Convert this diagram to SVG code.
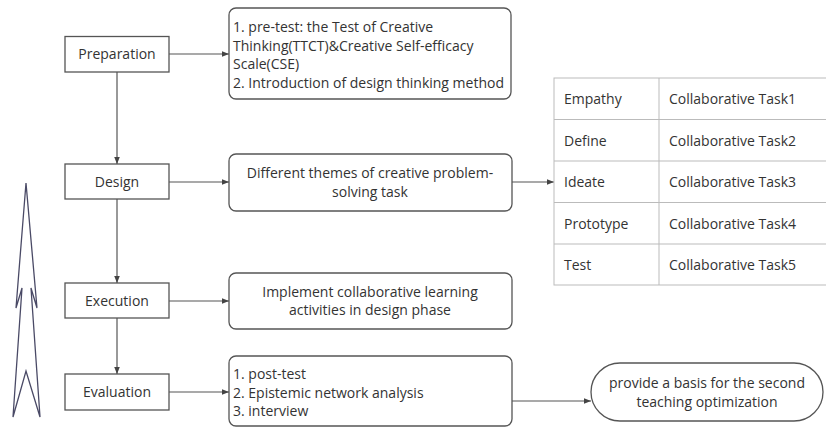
<svg xmlns="http://www.w3.org/2000/svg" width="826" height="429" viewBox="0 0 826 429">
<style>
  .stage{fill:#fff;stroke:#555;stroke-width:1.3}
  .box{fill:#fff;stroke:#555;stroke-width:1.3}
  .t{font-family:"Open Sans","Noto Sans","Liberation Sans",sans-serif;font-size:14px;fill:#333}
  .c{text-anchor:middle}
  .conn{stroke:#555;stroke-width:1.2;fill:none}
  .grid{stroke:#bbb;stroke-width:1;fill:none}
</style>
<defs>
  <marker id="ah" viewBox="0 0 8 8" refX="8" refY="4" markerWidth="7" markerHeight="7" markerUnits="userSpaceOnUse" orient="auto">
    <path d="M0,0.8 L8,4 L0,7.2 Z" fill="#444"/>
  </marker>
</defs>

<g id="connectors">
  <line class="conn" x1="117" y1="72" x2="117" y2="164" marker-end="url(#ah)"/>
  <line class="conn" x1="117" y1="199" x2="117" y2="283" marker-end="url(#ah)"/>
  <line class="conn" x1="117" y1="318" x2="117" y2="374" marker-end="url(#ah)"/>
  <line class="conn" x1="169" y1="54" x2="229" y2="54" marker-end="url(#ah)"/>
  <line class="conn" x1="169" y1="182" x2="229" y2="182" marker-end="url(#ah)"/>
  <line class="conn" x1="169" y1="301" x2="229" y2="301" marker-end="url(#ah)"/>
  <line class="conn" x1="169" y1="392" x2="229" y2="392" marker-end="url(#ah)"/>
  <line class="conn" x1="512" y1="182" x2="554" y2="182" marker-end="url(#ah)"/>
  <line class="conn" x1="512" y1="401" x2="591" y2="401" marker-end="url(#ah)"/>
</g>

<g id="cycle-arrow">
  <path d="M26,183 L37,308 L31,288 L40,417 L26,371 L13,417 L22,288 L16,308 Z" fill="#fff" stroke="#4a4a66" stroke-width="1.3" stroke-linejoin="miter"/>
</g>

<g id="preparation">
  <rect class="stage" x="65" y="36.5" width="104" height="35.5"/>
  <text class="t c" x="117" y="59">Preparation</text>
</g>
<g id="design">
  <rect class="stage" x="65" y="164" width="104" height="35"/>
  <text class="t c" x="117" y="186.5">Design</text>
</g>
<g id="execution">
  <rect class="stage" x="65" y="283" width="104" height="35"/>
  <text class="t c" x="117" y="305.5">Execution</text>
</g>
<g id="evaluation">
  <rect class="stage" x="65" y="374" width="104" height="36"/>
  <text class="t c" x="117" y="397">Evaluation</text>
</g>

<g id="pretest">
  <rect class="box" x="229" y="8" width="282" height="91" rx="7"/>
  <text class="t" x="233" y="32">1. pre-test: the Test of Creative</text>
  <text class="t" x="233" y="50.5">Thinking(TTCT)&amp;Creative Self-efficacy</text>
  <text class="t" x="233" y="69">Scale(CSE)</text>
  <text class="t" x="233" y="87.5">2. Introduction of design thinking method</text>
</g>
<g id="themes">
  <rect class="box" x="229" y="154" width="283" height="57" rx="7"/>
  <text class="t c" x="370" y="177.5">Different themes of creative problem-</text>
  <text class="t c" x="370" y="196.5">solving task</text>
</g>
<g id="implement">
  <rect class="box" x="229" y="273" width="283" height="56" rx="7"/>
  <text class="t c" x="370" y="296.5">Implement collaborative learning</text>
  <text class="t c" x="370" y="315">activities in design phase</text>
</g>
<g id="posttest">
  <rect class="box" x="229" y="356" width="283" height="70" rx="7"/>
  <text class="t" x="233" y="379">1. post-test</text>
  <text class="t" x="233" y="397.5">2. Epistemic network analysis</text>
  <text class="t" x="233" y="416">3. interview</text>
</g>
<g id="basis">
  <rect class="box" x="591" y="363" width="232" height="58" rx="29"/>
  <text class="t c" x="707" y="388">provide a basis for the second</text>
  <text class="t c" x="707" y="406.5">teaching optimization</text>
</g>

<g id="table">
  <rect class="grid" x="554" y="78" width="290" height="207"/>
  <line class="grid" x1="554" y1="119.5" x2="826" y2="119.5"/>
  <line class="grid" x1="554" y1="161" x2="826" y2="161"/>
  <line class="grid" x1="554" y1="202.5" x2="826" y2="202.5"/>
  <line class="grid" x1="554" y1="244" x2="826" y2="244"/>
  <line class="grid" x1="659" y1="78" x2="659" y2="285"/>
  <text class="t" x="564" y="104">Empathy</text>
  <text class="t" x="669" y="104">Collaborative Task1</text>
  <text class="t" x="564" y="145.5">Define</text>
  <text class="t" x="669" y="145.5">Collaborative Task2</text>
  <text class="t" x="564" y="187">Ideate</text>
  <text class="t" x="669" y="187">Collaborative Task3</text>
  <text class="t" x="564" y="228.5">Prototype</text>
  <text class="t" x="669" y="228.5">Collaborative Task4</text>
  <text class="t" x="564" y="270">Test</text>
  <text class="t" x="669" y="270">Collaborative Task5</text>
</g>
</svg>
